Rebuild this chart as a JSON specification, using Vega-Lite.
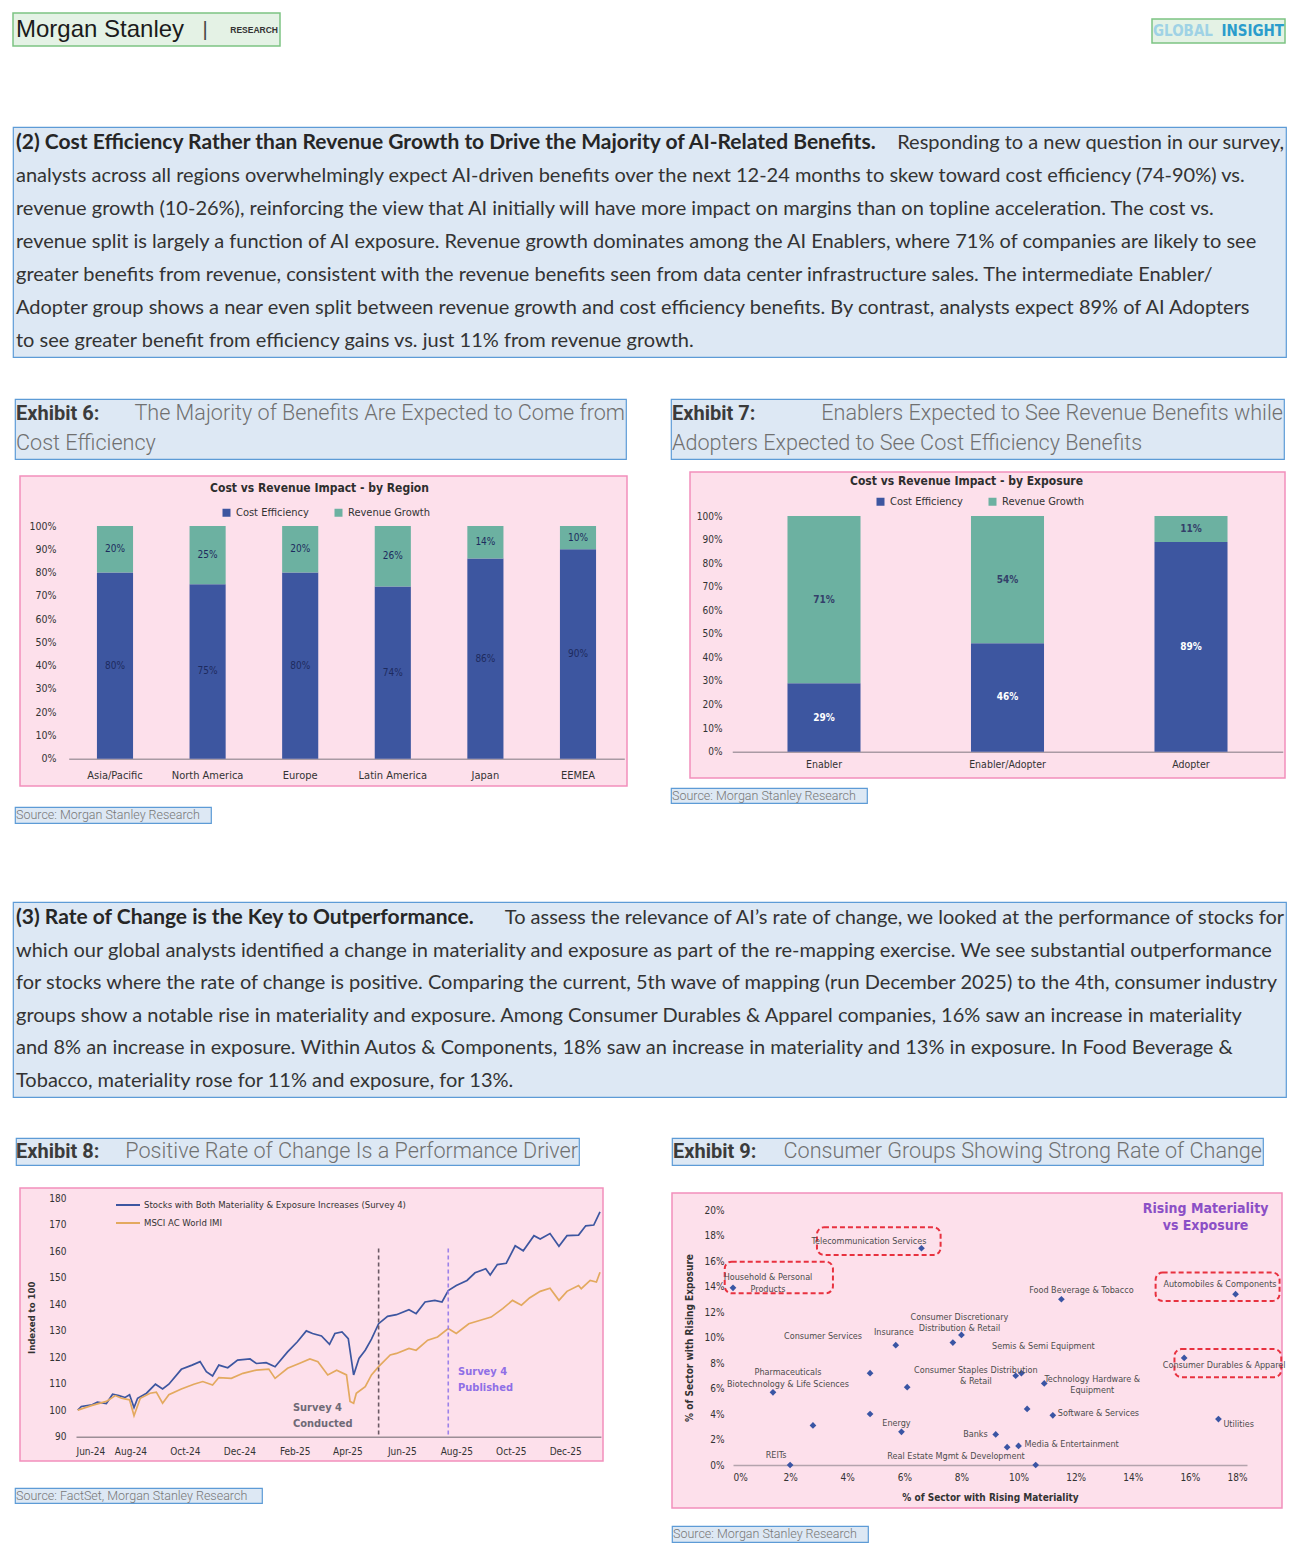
{
"$schema": "https://vega.github.io/schema/vega-lite/v6.json",
"background": "white",
"padding": {"left": 12, "top": 12, "right": 0, "bottom": 0},
"spacing": 0,
"resolve": {"scale": {"color": "independent"}, "legend": {"color": "independent"}},
"config": {
  "view": {"stroke": null},
  "concat": {"spacing": 0},
  "axis": {"grid": false, "ticks": false, "domain": false, "labelOverlap": false, "labelFont": "Liberation Sans Narrow, DejaVu Sans Condensed, sans-serif", "labelFontSize": 10, "labelColor": "#333333", "titleFont": "Liberation Sans Narrow, DejaVu Sans Condensed, sans-serif", "titleColor": "#333333", "titleFontWeight": "bold", "titleFontSize": 10},
  "legend": {"labelFont": "Liberation Sans Narrow, DejaVu Sans Condensed, sans-serif", "labelFontSize": 10.5, "labelColor": "#333333", "padding": 0},
  "title": {"font": "Liberation Sans Narrow, DejaVu Sans Condensed, sans-serif", "fontWeight": "bold"},
  "text": {"font": "Liberation Sans Narrow, DejaVu Sans Condensed, sans-serif", "fontSize": 9, "color": "#4d4d4d"}
},
"datasets": {
  "perf": [
    {"date": "2024-06-03", "series": "Stocks with Both Materiality & Exposure Increases (Survey 4)", "index": 100},
    {"date": "2024-06-07", "series": "Stocks with Both Materiality & Exposure Increases (Survey 4)", "index": 101.4},
    {"date": "2024-06-19", "series": "Stocks with Both Materiality & Exposure Increases (Survey 4)", "index": 102},
    {"date": "2024-06-25", "series": "Stocks with Both Materiality & Exposure Increases (Survey 4)", "index": 103},
    {"date": "2024-07-05", "series": "Stocks with Both Materiality & Exposure Increases (Survey 4)", "index": 102.5},
    {"date": "2024-07-12", "series": "Stocks with Both Materiality & Exposure Increases (Survey 4)", "index": 106},
    {"date": "2024-07-19", "series": "Stocks with Both Materiality & Exposure Increases (Survey 4)", "index": 105.5},
    {"date": "2024-07-26", "series": "Stocks with Both Materiality & Exposure Increases (Survey 4)", "index": 104.8},
    {"date": "2024-07-31", "series": "Stocks with Both Materiality & Exposure Increases (Survey 4)", "index": 105.8},
    {"date": "2024-08-05", "series": "Stocks with Both Materiality & Exposure Increases (Survey 4)", "index": 101},
    {"date": "2024-08-09", "series": "Stocks with Both Materiality & Exposure Increases (Survey 4)", "index": 104.5},
    {"date": "2024-08-19", "series": "Stocks with Both Materiality & Exposure Increases (Survey 4)", "index": 106.4},
    {"date": "2024-08-29", "series": "Stocks with Both Materiality & Exposure Increases (Survey 4)", "index": 109.8},
    {"date": "2024-09-06", "series": "Stocks with Both Materiality & Exposure Increases (Survey 4)", "index": 108},
    {"date": "2024-09-13", "series": "Stocks with Both Materiality & Exposure Increases (Survey 4)", "index": 109.8},
    {"date": "2024-09-27", "series": "Stocks with Both Materiality & Exposure Increases (Survey 4)", "index": 115.4},
    {"date": "2024-10-09", "series": "Stocks with Both Materiality & Exposure Increases (Survey 4)", "index": 117},
    {"date": "2024-10-18", "series": "Stocks with Both Materiality & Exposure Increases (Survey 4)", "index": 118.3},
    {"date": "2024-10-25", "series": "Stocks with Both Materiality & Exposure Increases (Survey 4)", "index": 114.5},
    {"date": "2024-11-01", "series": "Stocks with Both Materiality & Exposure Increases (Survey 4)", "index": 112.9},
    {"date": "2024-11-08", "series": "Stocks with Both Materiality & Exposure Increases (Survey 4)", "index": 117},
    {"date": "2024-11-18", "series": "Stocks with Both Materiality & Exposure Increases (Survey 4)", "index": 116},
    {"date": "2024-11-29", "series": "Stocks with Both Materiality & Exposure Increases (Survey 4)", "index": 118.9},
    {"date": "2024-12-13", "series": "Stocks with Both Materiality & Exposure Increases (Survey 4)", "index": 119.3},
    {"date": "2024-12-20", "series": "Stocks with Both Materiality & Exposure Increases (Survey 4)", "index": 117.6},
    {"date": "2024-12-31", "series": "Stocks with Both Materiality & Exposure Increases (Survey 4)", "index": 117.9},
    {"date": "2025-01-10", "series": "Stocks with Both Materiality & Exposure Increases (Survey 4)", "index": 116.4},
    {"date": "2025-01-24", "series": "Stocks with Both Materiality & Exposure Increases (Survey 4)", "index": 122},
    {"date": "2025-02-04", "series": "Stocks with Both Materiality & Exposure Increases (Survey 4)", "index": 125.8},
    {"date": "2025-02-14", "series": "Stocks with Both Materiality & Exposure Increases (Survey 4)", "index": 129.9},
    {"date": "2025-02-21", "series": "Stocks with Both Materiality & Exposure Increases (Survey 4)", "index": 128.9},
    {"date": "2025-03-03", "series": "Stocks with Both Materiality & Exposure Increases (Survey 4)", "index": 128},
    {"date": "2025-03-12", "series": "Stocks with Both Materiality & Exposure Increases (Survey 4)", "index": 124.8},
    {"date": "2025-03-18", "series": "Stocks with Both Materiality & Exposure Increases (Survey 4)", "index": 128.9},
    {"date": "2025-03-26", "series": "Stocks with Both Materiality & Exposure Increases (Survey 4)", "index": 129.5},
    {"date": "2025-04-02", "series": "Stocks with Both Materiality & Exposure Increases (Survey 4)", "index": 127},
    {"date": "2025-04-08", "series": "Stocks with Both Materiality & Exposure Increases (Survey 4)", "index": 113.3},
    {"date": "2025-04-14", "series": "Stocks with Both Materiality & Exposure Increases (Survey 4)", "index": 119.5},
    {"date": "2025-04-21", "series": "Stocks with Both Materiality & Exposure Increases (Survey 4)", "index": 122.6},
    {"date": "2025-04-28", "series": "Stocks with Both Materiality & Exposure Increases (Survey 4)", "index": 126.8},
    {"date": "2025-05-06", "series": "Stocks with Both Materiality & Exposure Increases (Survey 4)", "index": 132.6},
    {"date": "2025-05-16", "series": "Stocks with Both Materiality & Exposure Increases (Survey 4)", "index": 135.4},
    {"date": "2025-05-26", "series": "Stocks with Both Materiality & Exposure Increases (Survey 4)", "index": 136},
    {"date": "2025-06-09", "series": "Stocks with Both Materiality & Exposure Increases (Survey 4)", "index": 137.9},
    {"date": "2025-06-17", "series": "Stocks with Both Materiality & Exposure Increases (Survey 4)", "index": 136.4},
    {"date": "2025-06-27", "series": "Stocks with Both Materiality & Exposure Increases (Survey 4)", "index": 140.8},
    {"date": "2025-07-08", "series": "Stocks with Both Materiality & Exposure Increases (Survey 4)", "index": 141.4},
    {"date": "2025-07-16", "series": "Stocks with Both Materiality & Exposure Increases (Survey 4)", "index": 140.8},
    {"date": "2025-07-23", "series": "Stocks with Both Materiality & Exposure Increases (Survey 4)", "index": 145.1},
    {"date": "2025-08-01", "series": "Stocks with Both Materiality & Exposure Increases (Survey 4)", "index": 147},
    {"date": "2025-08-13", "series": "Stocks with Both Materiality & Exposure Increases (Survey 4)", "index": 148.9},
    {"date": "2025-08-22", "series": "Stocks with Both Materiality & Exposure Increases (Survey 4)", "index": 151.8},
    {"date": "2025-09-03", "series": "Stocks with Both Materiality & Exposure Increases (Survey 4)", "index": 153.3},
    {"date": "2025-09-08", "series": "Stocks with Both Materiality & Exposure Increases (Survey 4)", "index": 151},
    {"date": "2025-09-16", "series": "Stocks with Both Materiality & Exposure Increases (Survey 4)", "index": 154.9},
    {"date": "2025-09-26", "series": "Stocks with Both Materiality & Exposure Increases (Survey 4)", "index": 155.4},
    {"date": "2025-10-06", "series": "Stocks with Both Materiality & Exposure Increases (Survey 4)", "index": 162},
    {"date": "2025-10-15", "series": "Stocks with Both Materiality & Exposure Increases (Survey 4)", "index": 160.1},
    {"date": "2025-10-27", "series": "Stocks with Both Materiality & Exposure Increases (Survey 4)", "index": 165.8},
    {"date": "2025-11-03", "series": "Stocks with Both Materiality & Exposure Increases (Survey 4)", "index": 164.5},
    {"date": "2025-11-14", "series": "Stocks with Both Materiality & Exposure Increases (Survey 4)", "index": 166.6},
    {"date": "2025-11-24", "series": "Stocks with Both Materiality & Exposure Increases (Survey 4)", "index": 161.8},
    {"date": "2025-12-03", "series": "Stocks with Both Materiality & Exposure Increases (Survey 4)", "index": 165.8},
    {"date": "2025-12-16", "series": "Stocks with Both Materiality & Exposure Increases (Survey 4)", "index": 166},
    {"date": "2025-12-24", "series": "Stocks with Both Materiality & Exposure Increases (Survey 4)", "index": 169.5},
    {"date": "2026-01-02", "series": "Stocks with Both Materiality & Exposure Increases (Survey 4)", "index": 169.8},
    {"date": "2026-01-09", "series": "Stocks with Both Materiality & Exposure Increases (Survey 4)", "index": 174.8},
    {"date": "2024-06-03", "series": "MSCI AC World IMI", "index": 100},
    {"date": "2024-06-19", "series": "MSCI AC World IMI", "index": 101.8},
    {"date": "2024-07-05", "series": "MSCI AC World IMI", "index": 103.3},
    {"date": "2024-07-15", "series": "MSCI AC World IMI", "index": 105.5},
    {"date": "2024-07-22", "series": "MSCI AC World IMI", "index": 104.5},
    {"date": "2024-07-31", "series": "MSCI AC World IMI", "index": 103.9},
    {"date": "2024-08-05", "series": "MSCI AC World IMI", "index": 97.9},
    {"date": "2024-08-12", "series": "MSCI AC World IMI", "index": 104.5},
    {"date": "2024-08-23", "series": "MSCI AC World IMI", "index": 106.4},
    {"date": "2024-08-30", "series": "MSCI AC World IMI", "index": 106.8},
    {"date": "2024-09-06", "series": "MSCI AC World IMI", "index": 102.6},
    {"date": "2024-09-13", "series": "MSCI AC World IMI", "index": 105.8},
    {"date": "2024-09-27", "series": "MSCI AC World IMI", "index": 108},
    {"date": "2024-10-11", "series": "MSCI AC World IMI", "index": 109.8},
    {"date": "2024-10-21", "series": "MSCI AC World IMI", "index": 110.8},
    {"date": "2024-11-01", "series": "MSCI AC World IMI", "index": 109.5},
    {"date": "2024-11-08", "series": "MSCI AC World IMI", "index": 112.3},
    {"date": "2024-11-22", "series": "MSCI AC World IMI", "index": 112},
    {"date": "2024-12-05", "series": "MSCI AC World IMI", "index": 113.9},
    {"date": "2024-12-20", "series": "MSCI AC World IMI", "index": 115.1},
    {"date": "2025-01-03", "series": "MSCI AC World IMI", "index": 115.5},
    {"date": "2025-01-10", "series": "MSCI AC World IMI", "index": 112},
    {"date": "2025-01-24", "series": "MSCI AC World IMI", "index": 115.8},
    {"date": "2025-02-06", "series": "MSCI AC World IMI", "index": 117.6},
    {"date": "2025-02-18", "series": "MSCI AC World IMI", "index": 119.3},
    {"date": "2025-02-27", "series": "MSCI AC World IMI", "index": 118.3},
    {"date": "2025-03-10", "series": "MSCI AC World IMI", "index": 113.3},
    {"date": "2025-03-20", "series": "MSCI AC World IMI", "index": 115.1},
    {"date": "2025-03-31", "series": "MSCI AC World IMI", "index": 113.3},
    {"date": "2025-04-04", "series": "MSCI AC World IMI", "index": 103.3},
    {"date": "2025-04-08", "series": "MSCI AC World IMI", "index": 102.6},
    {"date": "2025-04-11", "series": "MSCI AC World IMI", "index": 106.4},
    {"date": "2025-04-21", "series": "MSCI AC World IMI", "index": 108.9},
    {"date": "2025-04-28", "series": "MSCI AC World IMI", "index": 113.3},
    {"date": "2025-05-06", "series": "MSCI AC World IMI", "index": 116.4},
    {"date": "2025-05-19", "series": "MSCI AC World IMI", "index": 120.8},
    {"date": "2025-05-26", "series": "MSCI AC World IMI", "index": 121.4},
    {"date": "2025-06-09", "series": "MSCI AC World IMI", "index": 123.3},
    {"date": "2025-06-17", "series": "MSCI AC World IMI", "index": 122.6},
    {"date": "2025-06-30", "series": "MSCI AC World IMI", "index": 126.4},
    {"date": "2025-07-11", "series": "MSCI AC World IMI", "index": 127.6},
    {"date": "2025-07-23", "series": "MSCI AC World IMI", "index": 130.8},
    {"date": "2025-08-01", "series": "MSCI AC World IMI", "index": 128.9},
    {"date": "2025-08-15", "series": "MSCI AC World IMI", "index": 132.6},
    {"date": "2025-08-28", "series": "MSCI AC World IMI", "index": 133.9},
    {"date": "2025-09-09", "series": "MSCI AC World IMI", "index": 135.1},
    {"date": "2025-09-22", "series": "MSCI AC World IMI", "index": 138.3},
    {"date": "2025-10-03", "series": "MSCI AC World IMI", "index": 141.4},
    {"date": "2025-10-13", "series": "MSCI AC World IMI", "index": 139.6},
    {"date": "2025-10-22", "series": "MSCI AC World IMI", "index": 142.3},
    {"date": "2025-11-03", "series": "MSCI AC World IMI", "index": 144.8},
    {"date": "2025-11-14", "series": "MSCI AC World IMI", "index": 146},
    {"date": "2025-11-24", "series": "MSCI AC World IMI", "index": 141.4},
    {"date": "2025-12-03", "series": "MSCI AC World IMI", "index": 144.8},
    {"date": "2025-12-16", "series": "MSCI AC World IMI", "index": 147},
    {"date": "2025-12-19", "series": "MSCI AC World IMI", "index": 145.8},
    {"date": "2025-12-29", "series": "MSCI AC World IMI", "index": 148.9},
    {"date": "2026-01-05", "series": "MSCI AC World IMI", "index": 148.3},
    {"date": "2026-01-09", "series": "MSCI AC World IMI", "index": 152}
  ]
},
"vconcat": [
  {"hconcat": [
    {"width": 267, "height": 33, "view": {"fill": "#e4f2e5", "stroke": "#7cc383", "strokeWidth": 1.5},
     "data": {"values": [{"part": "lead", "text": "Morgan Stanley"}, {"part": "sep", "text": "|"}, {"part": "tail", "text": "RESEARCH"}]},
     "encoding": {"text": {"field": "text", "type": "nominal"}},
     "layer": [
       {"transform": [{"filter": "datum.part === 'lead'"}], "mark": {"type": "text", "align": "left", "font": "Liberation Sans", "fontSize": 24, "color": "#1b1b1b"}, "encoding": {"x": {"datum": 0, "type": "quantitative", "scale": {"domain": [0, 1], "range": [3, 265]}, "axis": null}}},
       {"transform": [{"filter": "datum.part === 'sep'"}], "mark": {"type": "text", "align": "center", "font": "Liberation Sans", "fontSize": 20, "color": "#444444", "dx": -73}, "encoding": {"x": {"datum": 1, "type": "quantitative", "scale": {"domain": [0, 1], "range": [3, 265]}, "axis": null}}},
       {"transform": [{"filter": "datum.part === 'tail'"}], "mark": {"type": "text", "align": "right", "font": "Liberation Sans", "fontSize": 8.5, "fontWeight": "bold", "color": "#333333"}, "encoding": {"x": {"datum": 1, "type": "quantitative", "scale": {"domain": [0, 1], "range": [3, 265]}, "axis": null}}}
     ]},
    {"width": 870, "height": 1, "view": {"fill": "#ffffff", "fillOpacity": 0}, "data": {"values": []}, "mark": "point"},
    {"vconcat": [
      {"width": 1, "height": 5, "view": {"fill": "#ffffff", "fillOpacity": 0}, "data": {"values": []}, "mark": "point"},
      {"width": 133, "height": 24, "view": {"fill": "#e4f2e5", "stroke": "#7cc383", "strokeWidth": 1.5},
       "data": {"values": [{"part": "lead", "text": "GLOBAL"}, {"part": "tail", "text": "INSIGHT"}]},
       "encoding": {"text": {"field": "text", "type": "nominal"}},
       "layer": [
         {"transform": [{"filter": "datum.part === 'lead'"}], "mark": {"type": "text", "align": "left", "fontSize": 15, "fontWeight": "bold", "color": "#9fd2e5"}, "encoding": {"x": {"datum": 0, "type": "quantitative", "scale": {"domain": [0, 1], "range": [1, 132]}, "axis": null}}},
         {"transform": [{"filter": "datum.part === 'tail'"}], "mark": {"type": "text", "align": "right", "fontSize": 15, "fontWeight": "bold", "color": "#2a9ccc"}, "encoding": {"x": {"datum": 1, "type": "quantitative", "scale": {"domain": [0, 1], "range": [1, 132]}, "axis": null}}}
       ]}
    ]}
  ]},
  {"width": 1, "height": 79, "view": {"fill": "#ffffff", "fillOpacity": 0}, "data": {"values": []}, "mark": "point"},
  {"width": 1273, "height": 230, "view": {"fill": "#dde8f4", "stroke": "#5d9bd6", "strokeWidth": 1.2},
   "data": {"values": [
     {"line": 1, "part": "lead", "text": "(2) Cost Efficiency Rather than Revenue Growth to Drive the Majority of AI-Related Benefits."},
     {"line": 1, "part": "tail", "text": "Responding to a new question in our survey,"},
     {"line": 2, "part": "body", "text": "analysts across all regions overwhelmingly expect AI-driven benefits over the next 12-24 months to skew toward cost efficiency (74-90%) vs."},
     {"line": 3, "part": "body", "text": "revenue growth (10-26%), reinforcing the view that AI initially will have more impact on margins than on topline acceleration. The cost vs."},
     {"line": 4, "part": "body", "text": "revenue split is largely a function of AI exposure. Revenue growth dominates among the AI Enablers, where 71% of companies are likely to see"},
     {"line": 5, "part": "body", "text": "greater benefits from revenue, consistent with the revenue benefits seen from data center infrastructure sales. The intermediate Enabler/"},
     {"line": 6, "part": "body", "text": "Adopter group shows a near even split between revenue growth and cost efficiency benefits. By contrast, analysts expect 89% of AI Adopters"},
     {"line": 7, "part": "body", "text": "to see greater benefit from efficiency gains vs. just 11% from revenue growth."}
   ]},
   "encoding": {"y": {"field": "line", "type": "ordinal", "axis": null, "scale": {"paddingInner": 0, "paddingOuter": 0}}, "text": {"field": "text", "type": "nominal"}},
   "layer": [
     {"transform": [{"filter": "datum.part === 'lead'"}], "mark": {"type": "text", "align": "left", "font": "Lato", "fontSize": 21, "fontWeight": "bold", "color": "#262626"}, "encoding": {"x": {"datum": 0, "type": "quantitative", "scale": {"domain": [0, 1], "range": [3, 1271]}, "axis": null}}},
     {"transform": [{"filter": "datum.part === 'tail'"}], "mark": {"type": "text", "align": "right", "font": "Lato", "fontSize": 20, "color": "#333333"}, "encoding": {"x": {"datum": 1, "type": "quantitative", "scale": {"domain": [0, 1], "range": [3, 1271]}, "axis": null}}},
     {"transform": [{"filter": "datum.part === 'body'"}], "mark": {"type": "text", "align": "left", "font": "Lato", "fontSize": 20, "color": "#333333"}, "encoding": {"x": {"datum": 0, "type": "quantitative", "scale": {"domain": [0, 1], "range": [3, 1271]}, "axis": null}}}
   ]},
  {"width": 1, "height": 40, "view": {"fill": "#ffffff", "fillOpacity": 0}, "data": {"values": []}, "mark": "point"},
  {"resolve": {"scale": {"color": "independent"}, "legend": {"color": "independent"}},
   "hconcat": [
    {"resolve": {"scale": {"color": "independent"}, "legend": {"color": "independent"}},
     "vconcat": [
      {"hconcat": [
        {"width": 1, "height": 1, "view": {"fill": "#ffffff", "fillOpacity": 0}, "data": {"values": []}, "mark": "point"},
        {"width": 611, "height": 60, "view": {"fill": "#dde8f4", "stroke": "#5d9bd6", "strokeWidth": 1.2},
         "data": {"values": [
           {"line": 1, "part": "lead", "text": "Exhibit 6:"},
           {"line": 1, "part": "tail", "text": "The Majority of Benefits Are Expected to Come from"},
           {"line": 2, "part": "body", "text": "Cost Efficiency"}
         ]},
         "encoding": {"y": {"field": "line", "type": "ordinal", "axis": null, "scale": {"paddingInner": 0, "paddingOuter": 0}}, "text": {"field": "text", "type": "nominal"}},
         "layer": [
           {"transform": [{"filter": "datum.part === 'lead'"}], "mark": {"type": "text", "align": "left", "font": "Roboto", "fontSize": 20, "fontWeight": "bold", "color": "#3b3b3b"}, "encoding": {"x": {"datum": 0, "type": "quantitative", "scale": {"domain": [0, 1], "range": [1, 610]}, "axis": null}}},
           {"transform": [{"filter": "datum.part === 'tail'"}], "mark": {"type": "text", "align": "right", "font": "Roboto", "fontSize": 21.6, "fontWeight": 300, "color": "#707070"}, "encoding": {"x": {"datum": 1, "type": "quantitative", "scale": {"domain": [0, 1], "range": [1, 610]}, "axis": null}}},
           {"transform": [{"filter": "datum.part === 'body'"}], "mark": {"type": "text", "align": "left", "font": "Roboto", "fontSize": 21.6, "fontWeight": 300, "color": "#707070"}, "encoding": {"x": {"datum": 0, "type": "quantitative", "scale": {"domain": [0, 1], "range": [1, 610]}, "axis": null}}}
         ]}
      ]},
      {"width": 1, "height": 15, "view": {"fill": "#ffffff", "fillOpacity": 0}, "data": {"values": []}, "mark": "point"},
      {"resolve": {"scale": {"color": "independent"}, "legend": {"color": "independent"}},
       "hconcat": [
        {"width": 6, "height": 1, "view": {"fill": "#ffffff", "fillOpacity": 0}, "data": {"values": []}, "mark": "point"},
        {"width": 607, "height": 310, "view": {"fill": "#fde0eb", "stroke": "#f28fbc", "strokeWidth": 1.5},
         "title": {"text": "Cost vs Revenue Impact - by Region", "anchor": "middle", "offset": -19, "dx": -4, "fontSize": 12, "color": "#2e2e2e"},
         "data": {"values": [
           {"region": "Asia/Pacific", "type": "Cost Efficiency", "share": 0.80},
           {"region": "Asia/Pacific", "type": "Revenue Growth", "share": 0.20},
           {"region": "North America", "type": "Cost Efficiency", "share": 0.75},
           {"region": "North America", "type": "Revenue Growth", "share": 0.25},
           {"region": "Europe", "type": "Cost Efficiency", "share": 0.80},
           {"region": "Europe", "type": "Revenue Growth", "share": 0.20},
           {"region": "Latin America", "type": "Cost Efficiency", "share": 0.74},
           {"region": "Latin America", "type": "Revenue Growth", "share": 0.26},
           {"region": "Japan", "type": "Cost Efficiency", "share": 0.86},
           {"region": "Japan", "type": "Revenue Growth", "share": 0.14},
           {"region": "EEMEA", "type": "Cost Efficiency", "share": 0.90},
           {"region": "EEMEA", "type": "Revenue Growth", "share": 0.10}
         ]},
         "encoding": {"x": {"field": "region", "type": "nominal", "sort": ["Asia/Pacific", "North America", "Europe", "Latin America", "Japan", "EEMEA"], "scale": {"range": [48.7, 604.3], "paddingInner": 0.61, "paddingOuter": 0.305}, "axis": {"title": null, "labelAngle": 0, "offset": -27.3, "domain": true, "domainColor": "#a99aa4", "domainWidth": 1.5, "labelPadding": 11, "labelFontSize": 11}}},
         "layer": [
           {"mark": {"type": "bar"}, "encoding": {
             "y": {"field": "share", "type": "quantitative", "stack": "zero", "scale": {"domain": [0, 1], "range": [282.7, 50], "nice": false}, "axis": {"title": null, "format": ".0%", "values": [0, 0.1, 0.2, 0.3, 0.4, 0.5, 0.6, 0.7, 0.8, 0.9, 1], "offset": -41, "labelPadding": 5, "labelFontSize": 10.5}},
             "color": {"field": "type", "type": "nominal", "scale": {"domain": ["Cost Efficiency", "Revenue Growth"], "range": ["#3d56a0", "#6cb1a1"]}, "legend": {"orient": "none", "legendX": 201, "legendY": 31, "direction": "horizontal", "title": null, "symbolType": "square", "symbolSize": 64, "columnPadding": 24, "labelFontSize": 11, "labelOffset": 4}},
             "order": {"field": "type", "sort": "ascending"}}},
           {"transform": [{"stack": "share", "groupby": ["region"], "sort": [{"field": "type", "order": "ascending"}], "as": ["s0", "s1"]}, {"fold": ["s0", "s1"], "as": ["edge", "pos"]}],
            "mark": {"type": "text", "fontSize": 10, "color": "#1d2b5e"},
            "encoding": {"y": {"aggregate": "mean", "field": "pos", "type": "quantitative", "title": null, "axis": {"title": null, "format": ".0%", "values": [0, 0.1, 0.2, 0.3, 0.4, 0.5, 0.6, 0.7, 0.8, 0.9, 1], "offset": -41, "labelPadding": 5, "labelFontSize": 10.5}}, "detail": {"field": "type", "type": "nominal"}, "text": {"field": "share", "type": "quantitative", "format": ".0%"}}}
         ]}
      ]},
      {"width": 1, "height": 19, "view": {"fill": "#ffffff", "fillOpacity": 0}, "data": {"values": []}, "mark": "point"},
      {"hconcat": [
        {"width": 1, "height": 1, "view": {"fill": "#ffffff", "fillOpacity": 0}, "data": {"values": []}, "mark": "point"},
        {"width": 196, "height": 16, "view": {"fill": "#dde8f4", "stroke": "#5d9bd6", "strokeWidth": 1.2},
         "data": {"values": [{"line": 1, "part": "body", "text": "Source: Morgan Stanley Research"}]},
         "encoding": {"y": {"field": "line", "type": "ordinal", "axis": null}, "text": {"field": "text", "type": "nominal"}},
         "layer": [{"mark": {"type": "text", "align": "left", "font": "Roboto", "fontSize": 12.5, "fontWeight": 300, "color": "#777777"}, "encoding": {"x": {"datum": 0, "type": "quantitative", "scale": {"domain": [0, 1], "range": [1, 195]}, "axis": null}}}]}
      ]}
    ]},
    {"width": 42, "height": 1, "view": {"fill": "#ffffff", "fillOpacity": 0}, "data": {"values": []}, "mark": "point"},
    {"resolve": {"scale": {"color": "independent"}, "legend": {"color": "independent"}},
     "vconcat": [
      {"width": 613, "height": 60, "view": {"fill": "#dde8f4", "stroke": "#5d9bd6", "strokeWidth": 1.2},
       "data": {"values": [
         {"line": 1, "part": "lead", "text": "Exhibit 7:"},
         {"line": 1, "part": "tail", "text": "Enablers Expected to See Revenue Benefits while"},
         {"line": 2, "part": "body", "text": "Adopters Expected to See Cost Efficiency Benefits"}
       ]},
       "encoding": {"y": {"field": "line", "type": "ordinal", "axis": null, "scale": {"paddingInner": 0, "paddingOuter": 0}}, "text": {"field": "text", "type": "nominal"}},
       "layer": [
         {"transform": [{"filter": "datum.part === 'lead'"}], "mark": {"type": "text", "align": "left", "font": "Roboto", "fontSize": 20, "fontWeight": "bold", "color": "#3b3b3b"}, "encoding": {"x": {"datum": 0, "type": "quantitative", "scale": {"domain": [0, 1], "range": [1, 612]}, "axis": null}}},
         {"transform": [{"filter": "datum.part === 'tail'"}], "mark": {"type": "text", "align": "right", "font": "Roboto", "fontSize": 21.6, "fontWeight": 300, "color": "#707070"}, "encoding": {"x": {"datum": 1, "type": "quantitative", "scale": {"domain": [0, 1], "range": [1, 612]}, "axis": null}}},
         {"transform": [{"filter": "datum.part === 'body'"}], "mark": {"type": "text", "align": "left", "font": "Roboto", "fontSize": 21.6, "fontWeight": 300, "color": "#707070"}, "encoding": {"x": {"datum": 0, "type": "quantitative", "scale": {"domain": [0, 1], "range": [1, 612]}, "axis": null}}}
       ]},
      {"width": 1, "height": 11, "view": {"fill": "#ffffff", "fillOpacity": 0}, "data": {"values": []}, "mark": "point"},
      {"resolve": {"scale": {"color": "independent"}, "legend": {"color": "independent"}},
       "hconcat": [
        {"width": 18, "height": 1, "view": {"fill": "#ffffff", "fillOpacity": 0}, "data": {"values": []}, "mark": "point"},
        {"width": 595, "height": 306, "view": {"fill": "#fde0eb", "stroke": "#f28fbc", "strokeWidth": 1.5},
         "title": {"text": "Cost vs Revenue Impact - by Exposure", "anchor": "middle", "offset": -16, "dx": -21, "fontSize": 12, "color": "#2e2e2e"},
         "data": {"values": [
           {"exposure": "Enabler", "type": "Cost Efficiency", "share": 0.29},
           {"exposure": "Enabler", "type": "Revenue Growth", "share": 0.71},
           {"exposure": "Enabler/Adopter", "type": "Cost Efficiency", "share": 0.46},
           {"exposure": "Enabler/Adopter", "type": "Revenue Growth", "share": 0.54},
           {"exposure": "Adopter", "type": "Cost Efficiency", "share": 0.89},
           {"exposure": "Adopter", "type": "Revenue Growth", "share": 0.11}
         ]},
         "encoding": {"x": {"field": "exposure", "type": "nominal", "sort": ["Enabler", "Enabler/Adopter", "Adopter"], "scale": {"range": [42.25, 592.75], "paddingInner": 0.602, "paddingOuter": 0.301}, "axis": {"title": null, "labelAngle": 0, "offset": -26.3, "domain": true, "domainColor": "#a99aa4", "domainWidth": 1.5, "labelPadding": 8, "labelFontSize": 10.5}}},
         "layer": [
           {"mark": {"type": "bar"}, "encoding": {
             "y": {"field": "share", "type": "quantitative", "stack": "zero", "scale": {"domain": [0, 1], "range": [279.7, 44], "nice": false}, "axis": {"title": null, "format": ".0%", "values": [0, 0.1, 0.2, 0.3, 0.4, 0.5, 0.6, 0.7, 0.8, 0.9, 1], "offset": -36, "labelPadding": 4, "labelFontSize": 10}},
             "color": {"field": "type", "type": "nominal", "scale": {"domain": ["Cost Efficiency", "Revenue Growth"], "range": ["#3d56a0", "#6cb1a1"]}, "legend": {"orient": "none", "legendX": 185, "legendY": 24, "direction": "horizontal", "title": null, "symbolType": "square", "symbolSize": 64, "columnPadding": 24, "labelFontSize": 11, "labelOffset": 4}},
             "order": {"field": "type", "sort": "ascending"}}},
           {"transform": [{"stack": "share", "groupby": ["exposure"], "sort": [{"field": "type", "order": "ascending"}], "as": ["s0", "s1"]}, {"fold": ["s0", "s1"], "as": ["edge", "pos"]}],
            "mark": {"type": "text", "fontSize": 10, "fontWeight": "bold"},
            "encoding": {"y": {"aggregate": "mean", "field": "pos", "type": "quantitative", "title": null, "axis": {"title": null, "format": ".0%", "values": [0, 0.1, 0.2, 0.3, 0.4, 0.5, 0.6, 0.7, 0.8, 0.9, 1], "offset": -36, "labelPadding": 4, "labelFontSize": 10}}, "detail": {"field": "type", "type": "nominal"}, "text": {"field": "share", "type": "quantitative", "format": ".0%"}, "color": {"condition": {"test": "datum.type === 'Cost Efficiency'", "value": "#ffffff"}, "value": "#34406a"}}}
         ]}
      ]},
      {"width": 1, "height": 8, "view": {"fill": "#ffffff", "fillOpacity": 0}, "data": {"values": []}, "mark": "point"},
      {"width": 196, "height": 15, "view": {"fill": "#dde8f4", "stroke": "#5d9bd6", "strokeWidth": 1.2},
       "data": {"values": [{"line": 1, "part": "body", "text": "Source: Morgan Stanley Research"}]},
       "encoding": {"y": {"field": "line", "type": "ordinal", "axis": null}, "text": {"field": "text", "type": "nominal"}},
       "layer": [{"mark": {"type": "text", "align": "left", "font": "Roboto", "fontSize": 12.5, "fontWeight": 300, "color": "#777777"}, "encoding": {"x": {"datum": 0, "type": "quantitative", "scale": {"domain": [0, 1], "range": [1, 195]}, "axis": null}}}]}
    ]}
  ]},
  {"width": 1, "height": 77, "view": {"fill": "#ffffff", "fillOpacity": 0}, "data": {"values": []}, "mark": "point"},
  {"width": 1273, "height": 195, "view": {"fill": "#dde8f4", "stroke": "#5d9bd6", "strokeWidth": 1.2},
   "data": {"values": [
     {"line": 1, "part": "lead", "text": "(3) Rate of Change is the Key to Outperformance."},
     {"line": 1, "part": "tail", "text": "To assess the relevance of AI’s rate of change, we looked at the performance of stocks for"},
     {"line": 2, "part": "body", "text": "which our global analysts identified a change in materiality and exposure as part of the re-mapping exercise. We see substantial outperformance"},
     {"line": 3, "part": "body", "text": "for stocks where the rate of change is positive. Comparing the current, 5th wave of mapping (run December 2025) to the 4th, consumer industry"},
     {"line": 4, "part": "body", "text": "groups show a notable rise in materiality and exposure. Among Consumer Durables & Apparel companies, 16% saw an increase in materiality"},
     {"line": 5, "part": "body", "text": "and 8% an increase in exposure. Within Autos & Components, 18% saw an increase in materiality and 13% in exposure. In Food Beverage &"},
     {"line": 6, "part": "body", "text": "Tobacco, materiality rose for 11% and exposure, for 13%."}
   ]},
   "encoding": {"y": {"field": "line", "type": "ordinal", "axis": null, "scale": {"paddingInner": 0, "paddingOuter": 0}}, "text": {"field": "text", "type": "nominal"}},
   "layer": [
     {"transform": [{"filter": "datum.part === 'lead'"}], "mark": {"type": "text", "align": "left", "font": "Lato", "fontSize": 21, "fontWeight": "bold", "color": "#262626"}, "encoding": {"x": {"datum": 0, "type": "quantitative", "scale": {"domain": [0, 1], "range": [3, 1271]}, "axis": null}}},
     {"transform": [{"filter": "datum.part === 'tail'"}], "mark": {"type": "text", "align": "right", "font": "Lato", "fontSize": 20, "color": "#333333"}, "encoding": {"x": {"datum": 1, "type": "quantitative", "scale": {"domain": [0, 1], "range": [3, 1271]}, "axis": null}}},
     {"transform": [{"filter": "datum.part === 'body'"}], "mark": {"type": "text", "align": "left", "font": "Lato", "fontSize": 20, "color": "#333333"}, "encoding": {"x": {"datum": 0, "type": "quantitative", "scale": {"domain": [0, 1], "range": [3, 1271]}, "axis": null}}}
   ]},
  {"width": 1, "height": 39, "view": {"fill": "#ffffff", "fillOpacity": 0}, "data": {"values": []}, "mark": "point"},
  {"resolve": {"scale": {"color": "independent"}, "legend": {"color": "independent"}},
   "hconcat": [
    {"resolve": {"scale": {"color": "independent"}, "legend": {"color": "independent"}},
     "vconcat": [
      {"hconcat": [
        {"width": 2, "height": 1, "view": {"fill": "#ffffff", "fillOpacity": 0}, "data": {"values": []}, "mark": "point"},
        {"width": 563, "height": 27, "view": {"fill": "#dde8f4", "stroke": "#5d9bd6", "strokeWidth": 1.2},
         "data": {"values": [
           {"line": 1, "part": "lead", "text": "Exhibit 8:"},
           {"line": 1, "part": "tail", "text": "Positive Rate of Change Is a Performance Driver"}
         ]},
         "encoding": {"y": {"field": "line", "type": "ordinal", "axis": null}, "text": {"field": "text", "type": "nominal"}},
         "layer": [
           {"transform": [{"filter": "datum.part === 'lead'"}], "mark": {"type": "text", "align": "left", "font": "Roboto", "fontSize": 20, "fontWeight": "bold", "color": "#3b3b3b"}, "encoding": {"x": {"datum": 0, "type": "quantitative", "scale": {"domain": [0, 1], "range": [0, 562]}, "axis": null}}},
           {"transform": [{"filter": "datum.part === 'tail'"}], "mark": {"type": "text", "align": "right", "font": "Roboto", "fontSize": 21.6, "fontWeight": 300, "color": "#707070"}, "encoding": {"x": {"datum": 1, "type": "quantitative", "scale": {"domain": [0, 1], "range": [0, 562]}, "axis": null}}}
         ]}
      ]},
      {"width": 1, "height": 21, "view": {"fill": "#ffffff", "fillOpacity": 0}, "data": {"values": []}, "mark": "point"},
      {"resolve": {"scale": {"color": "independent"}, "legend": {"color": "independent"}},
       "hconcat": [
        {"width": 6, "height": 1, "view": {"fill": "#ffffff", "fillOpacity": 0}, "data": {"values": []}, "mark": "point"},
        {"width": 583, "height": 273, "view": {"fill": "#fde0eb", "stroke": "#f28fbc", "strokeWidth": 1.5},
         "layer": [
           {"data": {"name": "perf"}, "mark": {"type": "line", "strokeWidth": 1.7},
            "encoding": {
              "x": {"field": "date", "type": "temporal", "scale": {"domain": [{"year": 2024, "month": 6, "date": 1}, {"year": 2026, "month": 1, "date": 10}], "range": [56, 580.9], "nice": false}, "axis": {"title": null, "format": "%b-%y", "values": [{"year": 2024, "month": 6, "date": 1}, {"year": 2024, "month": 8, "date": 1}, {"year": 2024, "month": 10, "date": 1}, {"year": 2024, "month": 12, "date": 1}, {"year": 2025, "month": 2, "date": 1}, {"year": 2025, "month": 4, "date": 1}, {"year": 2025, "month": 6, "date": 1}, {"year": 2025, "month": 8, "date": 1}, {"year": 2025, "month": 10, "date": 1}, {"year": 2025, "month": 12, "date": 1}], "offset": -24.3, "domain": true, "domainColor": "#9b8e96", "domainWidth": 1.5, "labelPadding": 10, "labelFontSize": 10}},
              "y": {"field": "index", "type": "quantitative", "scale": {"domain": [90, 180], "range": [248.7, 10], "nice": false, "zero": false}, "axis": {"title": "Indexed to 100", "values": [90, 100, 110, 120, 130, 140, 150, 160, 170, 180], "offset": -56, "labelPadding": 10, "titlePadding": 12, "titleFontSize": 9.5}},
              "color": {"field": "series", "type": "nominal", "scale": {"domain": ["Stocks with Both Materiality & Exposure Increases (Survey 4)", "MSCI AC World IMI"], "range": ["#3d56a0", "#e3a95f"]}, "legend": {"orient": "none", "legendX": 95, "legendY": 4, "title": null, "symbolType": "stroke", "symbolSize": 576, "symbolStrokeWidth": 2, "labelFontSize": 9.5, "labelLimit": 400, "rowPadding": 0, "labelOffset": 3}}
            }},
           {"data": {"values": [{"event": "Survey 4 Conducted", "date": "2025-05-06"}, {"event": "Survey 4 Published", "date": "2025-07-23"}]},
            "mark": {"type": "rule", "strokeDash": [4, 3], "strokeWidth": 1.6},
            "encoding": {
              "x": {"field": "date", "type": "temporal", "axis": {"title": null, "format": "%b-%y", "values": [{"year": 2024, "month": 6, "date": 1}, {"year": 2024, "month": 8, "date": 1}, {"year": 2024, "month": 10, "date": 1}, {"year": 2024, "month": 12, "date": 1}, {"year": 2025, "month": 2, "date": 1}, {"year": 2025, "month": 4, "date": 1}, {"year": 2025, "month": 6, "date": 1}, {"year": 2025, "month": 8, "date": 1}, {"year": 2025, "month": 10, "date": 1}, {"year": 2025, "month": 12, "date": 1}], "offset": -24.3, "domain": true, "domainColor": "#9b8e96", "domainWidth": 1.5, "labelPadding": 10, "labelFontSize": 10}},
              "y": {"datum": 161, "type": "quantitative", "axis": {"title": "Indexed to 100", "values": [90, 100, 110, 120, 130, 140, 150, 160, 170, 180], "offset": -56, "labelPadding": 10, "titlePadding": 12, "titleFontSize": 9.5}},
              "y2": {"datum": 90},
              "color": {"condition": {"test": "datum.event === 'Survey 4 Conducted'", "value": "#6b5a65"}, "value": "#9d82ea"}}},
           {"data": {"values": [{"note": "Survey 4 Conducted"}]}, "mark": {"type": "text", "align": "left", "fontSize": 11, "fontWeight": "bold", "color": "#6f6a76", "lineHeight": 16},
            "encoding": {
              "x": {"datum": {"year": 2025, "month": 1, "date": 30}, "type": "temporal", "axis": {"title": null, "format": "%b-%y", "values": [{"year": 2024, "month": 6, "date": 1}, {"year": 2024, "month": 8, "date": 1}, {"year": 2024, "month": 10, "date": 1}, {"year": 2024, "month": 12, "date": 1}, {"year": 2025, "month": 2, "date": 1}, {"year": 2025, "month": 4, "date": 1}, {"year": 2025, "month": 6, "date": 1}, {"year": 2025, "month": 8, "date": 1}, {"year": 2025, "month": 10, "date": 1}, {"year": 2025, "month": 12, "date": 1}], "offset": -24.3, "domain": true, "domainColor": "#9b8e96", "domainWidth": 1.5, "labelPadding": 10, "labelFontSize": 10}},
              "y": {"datum": 100.9, "type": "quantitative", "axis": {"title": "Indexed to 100", "values": [90, 100, 110, 120, 130, 140, 150, 160, 170, 180], "offset": -56, "labelPadding": 10, "titlePadding": 12, "titleFontSize": 9.5}},
              "text": {"value": ["Survey 4", "Conducted"]}}},
           {"data": {"values": [{"note": "Survey 4 Published"}]}, "mark": {"type": "text", "align": "left", "fontSize": 11, "fontWeight": "bold", "color": "#8f6fe6", "lineHeight": 16},
            "encoding": {
              "x": {"datum": {"year": 2025, "month": 8, "date": 3}, "type": "temporal", "axis": {"title": null, "format": "%b-%y", "values": [{"year": 2024, "month": 6, "date": 1}, {"year": 2024, "month": 8, "date": 1}, {"year": 2024, "month": 10, "date": 1}, {"year": 2024, "month": 12, "date": 1}, {"year": 2025, "month": 2, "date": 1}, {"year": 2025, "month": 4, "date": 1}, {"year": 2025, "month": 6, "date": 1}, {"year": 2025, "month": 8, "date": 1}, {"year": 2025, "month": 10, "date": 1}, {"year": 2025, "month": 12, "date": 1}], "offset": -24.3, "domain": true, "domainColor": "#9b8e96", "domainWidth": 1.5, "labelPadding": 10, "labelFontSize": 10}},
              "y": {"datum": 114.4, "type": "quantitative", "axis": {"title": "Indexed to 100", "values": [90, 100, 110, 120, 130, 140, 150, 160, 170, 180], "offset": -56, "labelPadding": 10, "titlePadding": 12, "titleFontSize": 9.5}},
              "text": {"value": ["Survey 4", "Published"]}}}
         ]}
      ]},
      {"width": 1, "height": 25, "view": {"fill": "#ffffff", "fillOpacity": 0}, "data": {"values": []}, "mark": "point"},
      {"hconcat": [
        {"width": 1, "height": 1, "view": {"fill": "#ffffff", "fillOpacity": 0}, "data": {"values": []}, "mark": "point"},
        {"width": 247, "height": 15, "view": {"fill": "#dde8f4", "stroke": "#5d9bd6", "strokeWidth": 1.2},
         "data": {"values": [{"line": 1, "part": "body", "text": "Source: FactSet, Morgan Stanley Research"}]},
         "encoding": {"y": {"field": "line", "type": "ordinal", "axis": null}, "text": {"field": "text", "type": "nominal"}},
         "layer": [{"mark": {"type": "text", "align": "left", "font": "Roboto", "fontSize": 12.5, "fontWeight": 300, "color": "#777777"}, "encoding": {"x": {"datum": 0, "type": "quantitative", "scale": {"domain": [0, 1], "range": [1, 246]}, "axis": null}}}]}
      ]}
    ]},
    {"width": 66, "height": 1, "view": {"fill": "#ffffff", "fillOpacity": 0}, "data": {"values": []}, "mark": "point"},
    {"resolve": {"scale": {"color": "independent"}, "legend": {"color": "independent"}},
     "vconcat": [
      {"width": 591, "height": 27, "view": {"fill": "#dde8f4", "stroke": "#5d9bd6", "strokeWidth": 1.2},
       "data": {"values": [
         {"line": 1, "part": "lead", "text": "Exhibit 9:"},
         {"line": 1, "part": "tail", "text": "Consumer Groups Showing Strong Rate of Change"}
       ]},
       "encoding": {"y": {"field": "line", "type": "ordinal", "axis": null}, "text": {"field": "text", "type": "nominal"}},
       "layer": [
         {"transform": [{"filter": "datum.part === 'lead'"}], "mark": {"type": "text", "align": "left", "font": "Roboto", "fontSize": 20, "fontWeight": "bold", "color": "#3b3b3b"}, "encoding": {"x": {"datum": 0, "type": "quantitative", "scale": {"domain": [0, 1], "range": [1, 590]}, "axis": null}}},
         {"transform": [{"filter": "datum.part === 'tail'"}], "mark": {"type": "text", "align": "right", "font": "Roboto", "fontSize": 21.6, "fontWeight": 300, "color": "#707070"}, "encoding": {"x": {"datum": 1, "type": "quantitative", "scale": {"domain": [0, 1], "range": [1, 590]}, "axis": null}}}
       ]},
      {"width": 1, "height": 26, "view": {"fill": "#ffffff", "fillOpacity": 0}, "data": {"values": []}, "mark": "point"},
      {"width": 610, "height": 315, "view": {"fill": "#fde0eb", "stroke": "#f28fbc", "strokeWidth": 1.5},
       "title": {"text": ["Rising Materiality", "vs Exposure"], "anchor": "end", "align": "center", "dx": -80, "offset": -40, "fontSize": 14, "color": "#8b4fc6", "lineHeight": 17},
       "data": {"values": [
         {"group": "Telecommunication Services", "mat": 0.066, "exp": 0.170},
         {"group": "Household & Personal Products", "mat": 0.000, "exp": 0.139},
         {"group": "Food Beverage & Tobacco", "mat": 0.115, "exp": 0.130},
         {"group": "Automobiles & Components", "mat": 0.176, "exp": 0.134},
         {"group": "Consumer Durables & Apparel", "mat": 0.158, "exp": 0.084},
         {"group": "Consumer Discretionary Distribution & Retail", "mat": 0.080, "exp": 0.102},
         {"group": "Consumer Staples Distribution & Retail", "mat": 0.077, "exp": 0.096},
         {"group": "Insurance", "mat": 0.057, "exp": 0.094},
         {"group": "Consumer Services", "mat": 0.048, "exp": 0.072},
         {"group": "Semis & Semi Equipment", "mat": 0.101, "exp": 0.072},
         {"group": "Technology Hardware & Equipment", "mat": 0.109, "exp": 0.064},
         {"group": "Pharmaceuticals, Biotechnology & Life Sciences", "mat": 0.014, "exp": 0.057},
         {"group": "Software & Services", "mat": 0.112, "exp": 0.039},
         {"group": "Utilities", "mat": 0.170, "exp": 0.036},
         {"group": "Energy", "mat": 0.059, "exp": 0.026},
         {"group": "Banks", "mat": 0.092, "exp": 0.024},
         {"group": "Media & Entertainment", "mat": 0.100, "exp": 0.015},
         {"group": "REITs", "mat": 0.020, "exp": 0.000},
         {"group": "Real Estate Mgmt & Development", "mat": 0.106, "exp": 0.000},
         {"group": "Unlabelled 1", "mat": 0.099, "exp": 0.070},
         {"group": "Unlabelled 2", "mat": 0.061, "exp": 0.061},
         {"group": "Unlabelled 3", "mat": 0.048, "exp": 0.040},
         {"group": "Unlabelled 4", "mat": 0.103, "exp": 0.044},
         {"group": "Unlabelled 5", "mat": 0.028, "exp": 0.031},
         {"group": "Unlabelled 6", "mat": 0.096, "exp": 0.014}
       ]},
       "encoding": {
         "x": {"field": "mat", "type": "quantitative", "scale": {"domain": [0, 0.18], "range": [61, 575], "nice": false}, "axis": {"title": "% of Sector with Rising Materiality", "format": ".0%", "values": [0, 0.02, 0.04, 0.06, 0.08, 0.1, 0.12, 0.14, 0.16, 0.18], "offset": -43, "domain": true, "domainColor": "#b4a3ad", "domainWidth": 1.5, "labelPadding": 7, "titlePadding": 10, "titleFontSize": 10}},
         "y": {"field": "exp", "type": "quantitative", "scale": {"domain": [0, 0.2], "range": [272, 17], "nice": false}, "axis": {"title": "% of Sector with Rising Exposure", "format": ".0%", "values": [0, 0.02, 0.04, 0.06, 0.08, 0.1, 0.12, 0.14, 0.16, 0.18, 0.2], "offset": -61, "labelPadding": 9, "titlePadding": 10, "titleFontSize": 10}}
       },
       "layer": [
         {"data": {"values": [
            {"highlight": "Telecommunication Services", "m0": 0.0294, "m1": 0.0727, "e0": 0.1648, "e1": 0.1864},
            {"highlight": "Household & Personal Products", "m0": -0.0029, "m1": 0.035, "e0": 0.1347, "e1": 0.1595},
            {"highlight": "Automobiles & Components", "m0": 0.148, "m1": 0.1914, "e0": 0.1287, "e1": 0.1509},
            {"highlight": "Consumer Durables & Apparel", "m0": 0.1546, "m1": 0.192, "e0": 0.0689, "e1": 0.0909}
          ]},
          "mark": {"type": "rect", "fillOpacity": 0, "stroke": "#e8313f", "strokeWidth": 2, "strokeDash": [5, 3], "cornerRadius": 7},
          "encoding": {
            "x": {"field": "m0", "type": "quantitative", "axis": {"title": "% of Sector with Rising Materiality", "format": ".0%", "values": [0, 0.02, 0.04, 0.06, 0.08, 0.1, 0.12, 0.14, 0.16, 0.18], "offset": -43, "domain": true, "domainColor": "#b4a3ad", "domainWidth": 1.5, "labelPadding": 7, "titlePadding": 10, "titleFontSize": 10}},
            "x2": {"field": "m1"},
            "y": {"field": "e0", "type": "quantitative", "axis": {"title": "% of Sector with Rising Exposure", "format": ".0%", "values": [0, 0.02, 0.04, 0.06, 0.08, 0.1, 0.12, 0.14, 0.16, 0.18, 0.2], "offset": -61, "labelPadding": 9, "titlePadding": 10, "titleFontSize": 10}},
            "y2": {"field": "e1"}}},
         {"mark": {"type": "point", "shape": "diamond", "filled": true, "size": 45, "color": "#3a55a4", "opacity": 1}},
         {"transform": [{"filter": "datum.group === 'Telecommunication Services'"}], "mark": {"type": "text", "align": "right", "dx": 5, "dy": -7}, "encoding": {"text": {"field": "group"}}},
         {"transform": [{"filter": "datum.group === 'Household & Personal Products'"}], "mark": {"type": "text", "align": "center", "dx": 35, "dy": -11, "lineHeight": 12}, "encoding": {"text": {"value": ["Household & Personal", "Products"]}}},
         {"transform": [{"filter": "datum.group === 'Food Beverage & Tobacco'"}], "mark": {"type": "text", "align": "center", "dx": 20, "dy": -9}, "encoding": {"text": {"field": "group"}}},
         {"transform": [{"filter": "datum.group === 'Automobiles & Components'"}], "mark": {"type": "text", "align": "right", "dx": 41, "dy": -10}, "encoding": {"text": {"field": "group"}}},
         {"transform": [{"filter": "datum.group === 'Consumer Durables & Apparel'"}], "mark": {"type": "text", "align": "center", "dx": 40, "dy": 7}, "encoding": {"text": {"field": "group"}}},
         {"transform": [{"filter": "datum.group === 'Consumer Discretionary Distribution & Retail'"}], "mark": {"type": "text", "align": "center", "dx": -2, "dy": -18, "lineHeight": 11}, "encoding": {"text": {"value": ["Consumer Discretionary", "Distribution & Retail"]}}},
         {"transform": [{"filter": "datum.group === 'Consumer Staples Distribution & Retail'"}], "mark": {"type": "text", "align": "center", "dx": 23, "dy": 27, "lineHeight": 11}, "encoding": {"text": {"value": ["Consumer Staples Distribution", "& Retail"]}}},
         {"transform": [{"filter": "datum.group === 'Insurance'"}], "mark": {"type": "text", "align": "center", "dx": -2, "dy": -13}, "encoding": {"text": {"field": "group"}}},
         {"transform": [{"filter": "datum.group === 'Consumer Services'"}], "mark": {"type": "text", "align": "right", "dx": -8, "dy": -37}, "encoding": {"text": {"field": "group"}}},
         {"transform": [{"filter": "datum.group === 'Semis & Semi Equipment'"}], "mark": {"type": "text", "align": "center", "dx": 22, "dy": -27}, "encoding": {"text": {"field": "group"}}},
         {"transform": [{"filter": "datum.group === 'Technology Hardware & Equipment'"}], "mark": {"type": "text", "align": "center", "dx": 48, "dy": -4, "lineHeight": 11}, "encoding": {"text": {"value": ["Technology Hardware &", "Equipment"]}}},
         {"transform": [{"filter": "datum.group === 'Pharmaceuticals, Biotechnology & Life Sciences'"}], "mark": {"type": "text", "align": "center", "dx": 15, "dy": -20, "lineHeight": 12}, "encoding": {"text": {"value": ["Pharmaceuticals", "Biotechnology & Life Sciences"]}}},
         {"transform": [{"filter": "datum.group === 'Software & Services'"}], "mark": {"type": "text", "align": "left", "dx": 5, "dy": -2}, "encoding": {"text": {"field": "group"}}},
         {"transform": [{"filter": "datum.group === 'Utilities'"}], "mark": {"type": "text", "align": "left", "dx": 5, "dy": 5}, "encoding": {"text": {"field": "group"}}},
         {"transform": [{"filter": "datum.group === 'Energy'"}], "mark": {"type": "text", "align": "center", "dx": -5, "dy": -9}, "encoding": {"text": {"field": "group"}}},
         {"transform": [{"filter": "datum.group === 'Banks'"}], "mark": {"type": "text", "align": "right", "dx": -8, "dy": 0}, "encoding": {"text": {"field": "group"}}},
         {"transform": [{"filter": "datum.group === 'Media & Entertainment'"}], "mark": {"type": "text", "align": "left", "dx": 6, "dy": -2}, "encoding": {"text": {"field": "group"}}},
         {"transform": [{"filter": "datum.group === 'REITs'"}], "mark": {"type": "text", "align": "center", "dx": -14, "dy": -10}, "encoding": {"text": {"field": "group"}}},
         {"transform": [{"filter": "datum.group === 'Real Estate Mgmt & Development'"}], "mark": {"type": "text", "align": "right", "dx": -11, "dy": -9}, "encoding": {"text": {"field": "group"}}}
       ]},
      {"width": 1, "height": 16, "view": {"fill": "#ffffff", "fillOpacity": 0}, "data": {"values": []}, "mark": "point"},
      {"width": 196, "height": 16, "view": {"fill": "#dde8f4", "stroke": "#5d9bd6", "strokeWidth": 1.2},
       "data": {"values": [{"line": 1, "part": "body", "text": "Source: Morgan Stanley Research"}]},
       "encoding": {"y": {"field": "line", "type": "ordinal", "axis": null}, "text": {"field": "text", "type": "nominal"}},
       "layer": [{"mark": {"type": "text", "align": "left", "font": "Roboto", "fontSize": 12.5, "fontWeight": 300, "color": "#777777"}, "encoding": {"x": {"datum": 0, "type": "quantitative", "scale": {"domain": [0, 1], "range": [1, 195]}, "axis": null}}}]}
    ]}
  ]}
]
}
